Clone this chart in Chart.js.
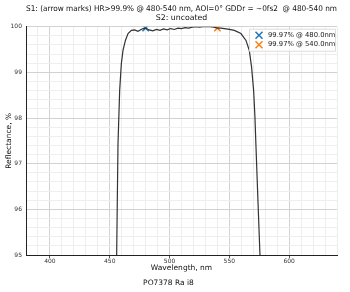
<!DOCTYPE html>
<html>
<head>
<meta charset="utf-8">
<script src="https://cdn.jsdelivr.net/npm/chart.js@4.4.0/dist/chart.umd.min.js"></script>
<style>
  html, body { margin: 0; padding: 0; background: #fff; }
  #wrap { width: 350px; height: 292px; }
</style>
</head>
<body>
<div id="wrap"><canvas id="chart" width="350" height="292"></canvas></div>
<script>
// Datos de la curva
const wavelengths = [455.0, 455.8, 456.9, 458.3, 459.7, 461.1, 463.1, 465.3, 468.1, 470.8, 473.6, 477.8, 480,
    483, 486, 489, 492, 495, 498, 501, 504, 507, 510, 513, 516, 519, 522, 525, 528, 531, 534, 537, 540, 543,
    545.8, 550, 554.2, 559.7, 563.9, 566.7, 568.6, 570.3, 571.4, 572.2, 573.9, 575.6, 576.5];
const reflectance = [93.0, 95.0, 97.42, 98.60, 99.19, 99.48, 99.70, 99.85, 99.92, 99.93, 99.90, 99.96, 99.97,
    99.93, 99.91, 99.94, 99.92, 99.95, 99.93, 99.96, 99.94, 99.97, 99.96, 99.98, 99.97, 99.99, 100.0, 99.99,
    100.0, 100.0, 100.0, 99.99, 99.97, 99.97, 99.96, 99.94, 99.92, 99.85, 99.70, 99.48, 99.11, 98.60, 98.02,
    97.42, 96.2, 95.0, 94.0];
// Marcas
const markLabels = ['99.97% @ 480.0nm', '99.97% @ 540.0nm'];
const markX = [480, 540];
const markY = [99.97, 99.97];
const markColors = ['#1f77b4', '#ff7f0e'];
const xTicksMajor = [400, 450, 500, 550, 600];
const yTicksMajor = [95, 96, 97, 98, 99, 100];

const FONT = 'DejaVu Sans';

const curve = wavelengths.map((x, i) => ({ x: x, y: reflectance[i] }));
const datasets = [{
    label: 'S1',
    data: curve,
    showLine: true,
    borderColor: '#333333',
    borderWidth: 1.2,
    pointRadius: 0,
    tension: 0
}];
markX.forEach((x, i) => {
    datasets.push({
        label: markLabels[i],
        data: [{ x: x, y: markY[i] }],
        pointStyle: 'crossRot',
        pointRadius: 4.5,
        borderColor: markColors[i],
        backgroundColor: markColors[i],
        pointBorderWidth: 1.5,
        showLine: false
    });
});

// Leyenda dentro del area del grafico
const insideLegend = {
    id: 'insideLegend',
    afterDraw(chart) {
        const ctx = chart.ctx;
        const area = chart.chartArea;
        const w = 86, h = 22;
        const x0 = area.right - w - 2, y0 = area.top + 2;
        ctx.save();
        ctx.fillStyle = 'rgba(255,255,255,0.85)';
        ctx.strokeStyle = '#dddddd';
        ctx.lineWidth = 1;
        ctx.beginPath();
        ctx.rect(x0 + 0.5, y0 + 0.5, w, h);
        ctx.fill();
        ctx.stroke();
        ctx.font = '6.8px "' + FONT + '"';
        ctx.textBaseline = 'middle';
        ctx.fillStyle = '#222';
        markLabels.forEach((lab, i) => {
            const cy = y0 + 6.5 + i * 9.5;
            ctx.strokeStyle = markColors[i];
            ctx.lineWidth = 1.5;
            ctx.beginPath();
            ctx.moveTo(x0 + 6.5, cy - 3.5); ctx.lineTo(x0 + 13.5, cy + 3.5);
            ctx.moveTo(x0 + 13.5, cy - 3.5); ctx.lineTo(x0 + 6.5, cy + 3.5);
            ctx.stroke();
            ctx.fillText(lab, x0 + 19, cy);
        });
        ctx.restore();
    }
};

new Chart(document.getElementById('chart'), {
    type: 'scatter',
    data: { datasets: datasets },
    plugins: [insideLegend],
    options: {
        responsive: false,
        animation: false,
        layout: { padding: { left: 0, right: 13, top: 0, bottom: 2 } },
        plugins: {
            legend: { display: false },
            tooltip: { enabled: false },
            title: {
                display: true,
                fullSize: false,
                text: ['S1: (arrow marks) HR>99.9% @ 480-540 nm, AOI=0° GDDr = ~0fs2  @ 480-540 nm', 'S2: uncoated'],
                font: { family: FONT, size: 7.8, weight: 'normal' },
                color: '#111',
                padding: { top: 4, bottom: 4 },
                lineHeight: 1.15
            },
            subtitle: {
                display: true,
                position: 'bottom',
                text: 'PO7378 Ra i8',
                font: { family: FONT, size: 7.5 },
                color: '#111',
                padding: { top: 6, bottom: 2 }
            }
        },
        scales: {
            x: {
                type: 'linear',
                min: 380,
                max: 640,
                afterFit: s => { s.height = 18; },
                ticks: {
                    stepSize: 10,
                    autoSkip: false,
                    maxRotation: 0,
                    font: { family: FONT, size: 6 },
                    color: '#333',
                    padding: 0,
                    callback: v => xTicksMajor.includes(v) ? String(v) : ''
                },
                grid: {
                    color: ctx => xTicksMajor.includes(ctx.tick && ctx.tick.value) ? '#d2d2d2' : '#eeeeee',
                    tickLength: 3,
                    tickColor: ctx => xTicksMajor.includes(ctx.tick && ctx.tick.value) ? '#555' : 'rgba(0,0,0,0)'
                },
                border: { color: '#222', width: 1 },
                title: {
                    display: true,
                    text: 'Wavelength, nm',
                    font: { family: FONT, size: 7.5 },
                    color: '#111',
                    padding: { top: 0, bottom: 0 }
                }
            },
            y: {
                min: 95,
                max: 100,
                ticks: {
                    stepSize: 0.2,
                    autoSkip: false,
                    font: { family: FONT, size: 6 },
                    color: '#333',
                    padding: 2,
                    callback: v => {
                        const r = Math.round(v * 10) / 10;
                        return yTicksMajor.includes(r) ? String(r) : '';
                    }
                },
                afterFit: s => { s.width = 26; },
                grid: {
                    color: ctx => {
                        const v = ctx.tick ? Math.round(ctx.tick.value * 10) / 10 : null;
                        return yTicksMajor.includes(v) ? '#d2d2d2' : '#eeeeee';
                    },
                    tickLength: 2,
                    tickColor: 'rgba(0,0,0,0)'
                },
                border: { color: '#222', width: 1 },
                title: {
                    display: true,
                    text: 'Reflectance, %',
                    font: { family: FONT, size: 7.5 },
                    color: '#111',
                    padding: { top: 5, bottom: 0 }
                }
            }
        }
    }
});
</script>
</body>
</html>
